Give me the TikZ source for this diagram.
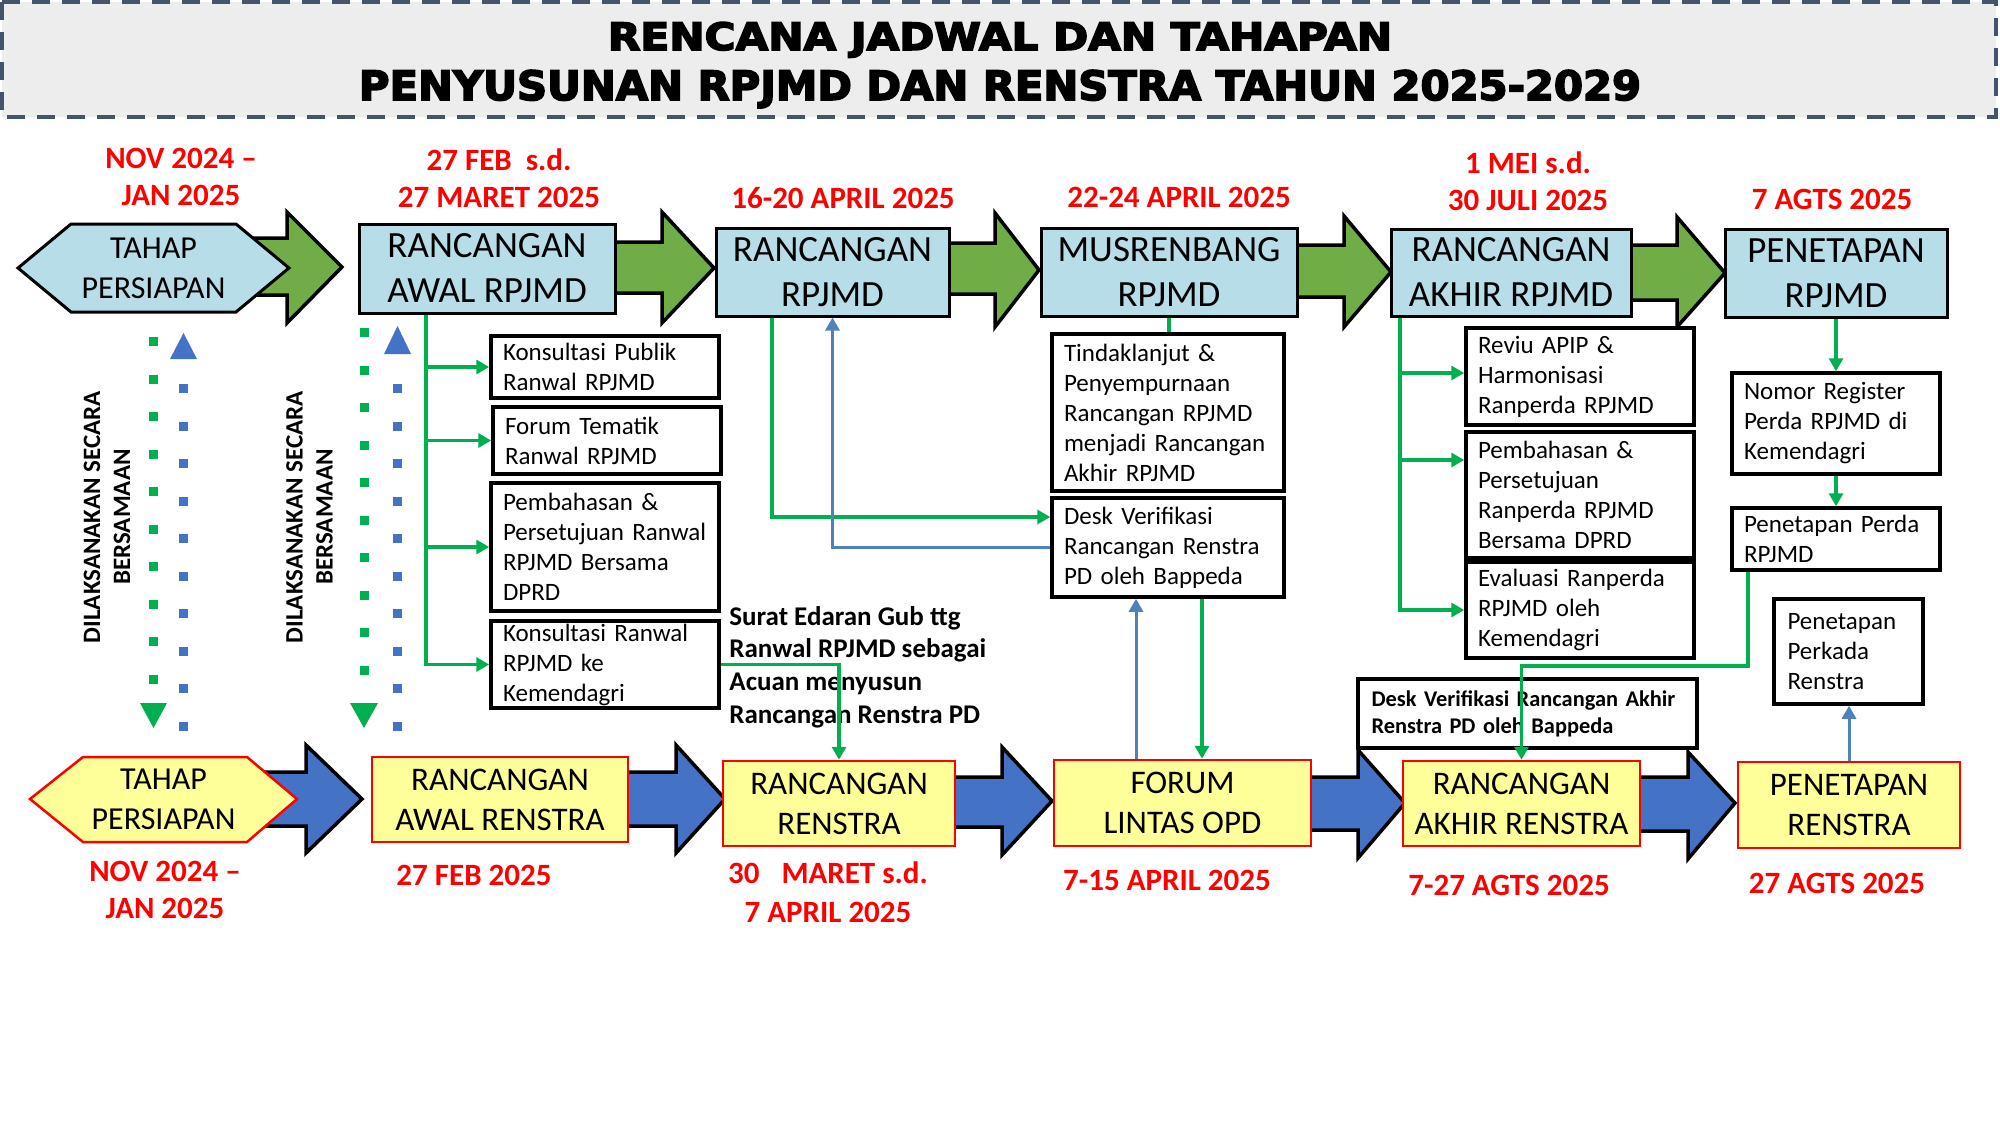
\documentclass[tikz,border=0pt]{standalone}
\usepackage{fontspec}
\usepackage{graphicx}
\setmainfont{Carlito}
\newfontfamily\titlefont{DejaVu Sans}[FakeBold=4]
\usetikzlibrary{arrows.meta}
\definecolor{ltblue}{HTML}{B7DEE8}
\definecolor{garr}{HTML}{70AD47}
\definecolor{barr}{HTML}{4472C4}
\definecolor{yel}{HTML}{FFFF99}
\definecolor{gln}{HTML}{00B050}
\definecolor{bln}{HTML}{4F81BD}
\definecolor{titbg}{HTML}{EDEDED}
\definecolor{titbd}{HTML}{44546A}
\definecolor{datered}{HTML}{FF0000}
\tikzset{
  topshape/.style={draw=black, line width=1.5pt, fill=ltblue},
  botshape/.style={draw=red, line width=1.25pt, fill=yel},
  topbox/.style={topshape, align=center, inner sep=0pt, font=\fontsize{18.5}{22.5}\selectfont},
  botbox/.style={botshape, align=center, inner sep=0pt, font=\fontsize{16.5}{20}\selectfont},
  hextext/.style={align=center, inner sep=0pt, font=\fontsize{16}{20}\selectfont},
  smallbox/.style={draw=black, line width=1.75pt, fill=white, align=left, inner xsep=6pt, inner ysep=0pt, font=\fontsize{12.5}{15}\selectfont},
  garrow/.style={draw=black, line width=1.75pt, fill=garr, line join=miter},
  barrow/.style={draw=black, line width=1.75pt, fill=barr, line join=miter},
  gconn/.style={draw=gln, line width=1.75pt},
  bconn/.style={draw=bln, line width=1.5pt},
  tipped/.style={-{Triangle[length=6.5pt,width=7pt]}},
  datelbl/.style={text=datered, font=\bfseries\fontsize{15.5}{18.5}\selectfont, align=center, anchor=base, inner sep=0pt},
  rotlbl/.style={rotate=90, align=center, inner sep=0pt, font=\bfseries\fontsize{12.5}{15}\selectfont},
  gdots/.style={draw=gln, line width=4.5pt, dash pattern=on 4.5pt off 14.25pt},
  bdots/.style={draw=barr, line width=4.5pt, dash pattern=on 4.5pt off 14.25pt},
}
\begin{document}
\begin{tikzpicture}[x=0.5pt,y=-0.5pt]
\useasboundingbox (0,0) rectangle (2000,1125);
\fill[white] (0,0) rectangle (2000,1125);
% title
\draw[titbd, fill=titbg, line width=1.75pt, dash pattern=on 9pt off 6pt] (2,2) rectangle (1996,117);
\node[anchor=base, inner sep=0pt] (title1) at (1000,50) {\resizebox{392pt}{14pt}{\titlefont\bfseries RENCANA JADWAL DAN TAHAPAN}};
\node[anchor=base, inner sep=0pt] (title2) at (1000,100) {\resizebox{641pt}{15pt}{\titlefont\bfseries PENYUSUNAN RPJMD DAN RENSTRA TAHUN 2025-2029}};

% green block arrows
\draw[garrow] (240,238) -- (287,238) -- (287,212) -- (342,267) -- (287,323) -- (287,295) -- (240,295) -- cycle;
\draw[garrow] (600,242) -- (662,242) -- (662,212) -- (714,268) -- (662,323) -- (662,293) -- (600,293) -- cycle;
\draw[garrow] (935,243) -- (995,243) -- (995,213) -- (1039,270) -- (995,327) -- (995,294) -- (935,294) -- cycle;
\draw[garrow] (1285,245) -- (1344,245) -- (1344,216) -- (1391,272) -- (1344,327) -- (1344,297) -- (1285,297) -- cycle;
\draw[garrow] (1620,245) -- (1677,245) -- (1677,217) -- (1725,273) -- (1677,327) -- (1677,300) -- (1620,300) -- cycle;
% blue block arrows
\draw[barrow] (250,772) -- (306,772) -- (306,745) -- (362,799) -- (306,853) -- (306,826) -- (250,826) -- cycle;
\draw[barrow] (615,772) -- (676,772) -- (676,745) -- (725,799) -- (676,853) -- (676,826) -- (615,826) -- cycle;
\draw[barrow] (945,777) -- (1002,777) -- (1002,747) -- (1052,801) -- (1002,855) -- (1002,827) -- (945,827) -- cycle;
\draw[barrow] (1300,777) -- (1358,777) -- (1358,750) -- (1405,803) -- (1358,858) -- (1358,830) -- (1300,830) -- cycle;
\draw[barrow] (1630,777) -- (1688,777) -- (1688,752) -- (1735,803) -- (1688,859) -- (1688,831) -- (1630,831) -- cycle;

% hexagons
\draw[topshape] (18,268) -- (71,224) -- (236,224) -- (289,268) -- (236,312) -- (71,312) -- cycle;
\node[hextext] (hex1) at (153.5,268) {TAHAP\\PERSIAPAN};
\draw[botshape] (30,799) -- (83,757) -- (247,757) -- (297,799) -- (247,842) -- (83,842) -- cycle;
\node[hextext] (hex2) at (163.5,799) {TAHAP\\PERSIAPAN};

% top boxes
\node[topbox, minimum width=128pt, minimum height=44.5pt] (awalrpjmd) at (487,268.5) {RANCANGAN\\AWAL RPJMD};
\node[topbox, minimum width=116.5pt, minimum height=44pt] (rpjmd) at (832.5,272) {RANCANGAN\\RPJMD};
\node[topbox, minimum width=128pt, minimum height=44pt] (musren) at (1169,272) {MUSRENBANG\\RPJMD};
\node[topbox, minimum width=120pt, minimum height=43.5pt] (akhirrpjmd) at (1511,272.5) {RANCANGAN\\AKHIR RPJMD};
\node[topbox, minimum width=111pt, minimum height=44pt] (penrpjmd) at (1836,273) {PENETAPAN\\RPJMD};

% bottom boxes
\node[botbox, minimum width=128pt, minimum height=42.5pt] (awalren) at (500,799.5) {RANCANGAN\\AWAL RENSTRA};
\node[botbox, minimum width=116pt, minimum height=42.5pt] (renstra) at (839,803.5) {RANCANGAN\\RENSTRA};
\node[botbox, minimum width=128.5pt, minimum height=43pt] (forum) at (1182.5,803) {FORUM\\LINTAS OPD};
\node[botbox, minimum width=118.5pt, minimum height=42.5pt] (akhirren) at (1521.5,803.5) {RANCANGAN\\AKHIR RENSTRA};
\node[botbox, minimum width=111pt, minimum height=43pt] (penren) at (1849,805) {PENETAPAN\\RENSTRA};

% small boxes
\node[smallbox, minimum width=114pt, minimum height=31pt, text width=102pt] (kp) at (605,367) {Konsultasi Publik\\Ranwal RPJMD};
\node[smallbox, minimum width=114pt, minimum height=33.5pt, text width=102pt] (ft) at (607,440.5) {Forum Tematik\\Ranwal RPJMD};
\node[smallbox, minimum width=114pt, minimum height=64pt, text width=102pt] (pp) at (605,547) {Pembahasan \&\\Persetujuan Ranwal\\RPJMD Bersama\\DPRD};
\node[smallbox, minimum width=114pt, minimum height=43.5pt, text width=102pt] (kr) at (605,664.5) {Konsultasi Ranwal\\RPJMD ke\\Kemendagri};
\node[smallbox, minimum width=116pt, minimum height=78.5pt, text width=104pt] (tl) at (1168,412.5) {Tindaklanjut \&\\Penyempurnaan\\Rancangan RPJMD\\menjadi Rancangan\\Akhir RPJMD};
\node[smallbox, minimum width=116pt, minimum height=49.5pt, text width=104pt] (dv) at (1168,547.5) {Desk Verifikasi\\Rancangan Renstra\\PD oleh Bappeda};
\node[smallbox, minimum width=114pt, minimum height=48.5pt, text width=102pt] (ra) at (1580,376.5) {Reviu APIP \&\\Harmonisasi\\Ranperda RPJMD};
\node[smallbox, minimum width=114pt, minimum height=63pt, text width=102pt] (pr) at (1580,495) {Pembahasan \&\\Persetujuan\\Ranperda RPJMD\\Bersama DPRD};
\node[smallbox, minimum width=114pt, minimum height=48pt, text width=102pt] (ev) at (1580,610) {Evaluasi Ranperda\\RPJMD oleh\\Kemendagri};
\node[smallbox, minimum width=104pt, minimum height=50.5pt, text width=92pt] (nr) at (1836,423.5) {Nomor Register\\Perda RPJMD di\\Kemendagri};
\node[smallbox, minimum width=104pt, minimum height=31pt, text width=92pt] (pd) at (1836,539) {Penetapan Perda\\RPJMD};
\node[smallbox, minimum width=74.5pt, minimum height=52.5pt, text width=61pt, inner xsep=6.75pt] (pk) at (1848.5,651.5) {Penetapan\\Perkada\\Renstra};
\node[smallbox, minimum width=169.5pt, minimum height=34.5pt, text width=156pt, inner xsep=6.75pt, font=\bfseries\fontsize{11.2}{13.5}\selectfont] (dva) at (1527.5,713.5) {Desk Verifikasi Rancangan Akhir\\Renstra PD oleh Bappeda};

% note text (base = last line)
\node[anchor=base west, align=left, inner sep=0pt, font=\bfseries\fontsize{13.5}{16.3}\selectfont] (surat) at (729,723) {Surat Edaran Gub ttg\\Ranwal RPJMD sebagai\\Acuan menyusun\\Rancangan Renstra PD};

% connectors
\coordinate (t1) at (426,0);
\coordinate (t2) at (1400,0);
\coordinate (k1) at (1748,666);
\draw[gconn, tipped] (awalrpjmd.south -| t1) |- (kp.west);
\draw[gconn, tipped] (awalrpjmd.south -| t1) |- (ft.west);
\draw[gconn, tipped] (awalrpjmd.south -| t1) |- (pp.west);
\draw[gconn, tipped] (awalrpjmd.south -| t1) |- (kr.west);
\draw[gconn, tipped] (kr.east) -| (renstra.north);
\draw[gconn, tipped] ([xshift=-30.25pt]rpjmd.south) |- ([yshift=15.25pt]dv.west);
\draw[bconn, tipped] (dv.west) -| (rpjmd.south);
\draw[gconn] (musren.south) -- (musren.south |- tl.north);
\draw[bconn, tipped] ([xshift=-23.25pt]forum.north) -- ([xshift=-23.25pt]forum.north |- dv.south);
\draw[gconn, tipped] ([xshift=17pt]dv.south) -- ([xshift=17pt]dv.south |- forum.north);
\draw[gconn, tipped] (akhirrpjmd.south -| t2) |- ([yshift=1.75pt]ra.west);
\draw[gconn, tipped] (akhirrpjmd.south -| t2) |- ([yshift=17.5pt]pr.west);
\draw[gconn, tipped] (akhirrpjmd.south -| t2) |- (ev.west);
\draw[gconn, tipped] (penrpjmd.south) -- (nr.north);
\draw[gconn, tipped] (nr.south) -- (pd.north);
\draw[gconn, tipped] (pd.south -| k1) -- (k1) -| (akhirren.north);
\draw[bconn, tipped] (penren.north) -- (penren.north |- pk.south);

% dotted "simultaneous" arrows
\draw[gdots] (153,337) -- (153,684);
\fill[gln] (140,703) -- (167,703) -- (153.5,728) -- cycle;
\draw[bdots] (183,384) -- (183,731);
\fill[barr] (170,359) -- (197,359) -- (183.5,333) -- cycle;
\draw[gdots] (364,328) -- (364,675);
\fill[gln] (350,703) -- (378,703) -- (364,728) -- cycle;
\draw[bdots] (397,384) -- (397,731);
\fill[barr] (384,354) -- (411,354) -- (397.5,326) -- cycle;
\node[rotlbl] (dil1) at (107,517) {DILAKSANAKAN SECARA\\BERSAMAAN};
\node[rotlbl] (dil2) at (309.5,517) {DILAKSANAKAN SECARA\\BERSAMAAN};

% dates (multi-line: base = last line)
\node[datelbl] (d1) at (181,205) {NOV 2024 –\\JAN 2025};
\node[datelbl] (d2) at (499,207) {27 FEB\ \ s.d.\\27 MARET 2025};
\node[datelbl] (d3) at (843,208) {16-20 APRIL 2025};
\node[datelbl] (d4) at (1179,207) {22-24 APRIL 2025};
\node[datelbl] (d5) at (1528,210) {1 MEI s.d.\\30 JULI 2025};
\node[datelbl] (d6) at (1832,209) {7 AGTS 2025};
\node[datelbl] (e1) at (165,918) {NOV 2024 –\\JAN 2025};
\node[datelbl] (e2) at (474,885) {27 FEB 2025};
\node[datelbl] (e3) at (828,922) {30\hspace{11pt}MARET s.d.\\[1pt]7 APRIL 2025};
\node[datelbl] (e4) at (1167,890) {7-15 APRIL 2025};
\node[datelbl] (e5) at (1509,895) {7-27 AGTS 2025};
\node[datelbl] (e6) at (1837,893) {27 AGTS 2025};
\end{tikzpicture}
\end{document}
